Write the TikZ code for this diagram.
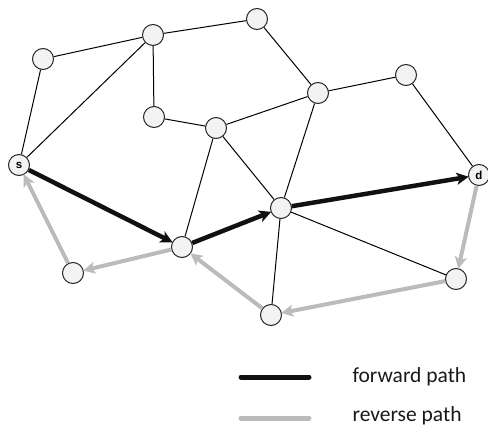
\documentclass[tikz,border=0pt]{standalone}
\usepackage{fontspec}
\setmainfont{Carlito}
\newfontfamily\labfont{Liberation Sans}
\usetikzlibrary{arrows.meta}
\definecolor{nodefill}{HTML}{F3F3F3}
\definecolor{fwd}{HTML}{111111}
\definecolor{rev}{HTML}{BBBBBB}
\tikzset{
  vtx/.style={circle,draw=black!85,line width=1pt,fill=nodefill,minimum size=21pt,inner sep=0pt,font=\labfont\bfseries\fontsize{11.5}{11.5}\selectfont},
  edge/.style={draw=black,line width=1pt},
  fwdpath/.style={draw=fwd,line width=4.5pt,-{Stealth[length=12pt,width=12pt,inset=3pt]},shorten >=-0.5pt},
  revpath/.style={draw=rev,line width=4pt,-{Stealth[length=12pt,width=12pt,inset=3pt]},shorten >=-0.5pt},
  legline/.style={line width=5pt,line cap=round},
  legtext/.style={anchor=west,font=\fontsize{21.5}{21.5}\selectfont,text=black!90}
}
\begin{document}
\begin{tikzpicture}[x=1pt,y=-1pt]
\useasboundingbox (0,0) rectangle (488,428);
\node[vtx] (A) at (43,59) {};
\node[vtx] (B) at (153,35) {};
\node[vtx] (C) at (257,19) {};
\node[vtx] (D) at (154,117) {};
\node[vtx] (E) at (216,128) {};
\node[vtx] (F) at (318,93) {};
\node[vtx] (G) at (406,75) {};
\node[vtx] (s) at (19,165) {s};
\node[vtx] (d) at (479,175) {d};
\node[vtx] (H) at (182,247) {};
\node[vtx] (I) at (281,208) {};
\node[vtx] (J) at (73,273) {};
\node[vtx] (K) at (456,279) {};
\node[vtx] (L) at (271,315) {};
\draw[edge] (A) -- (B);
\draw[edge] (A) -- (s);
\draw[edge] (B) -- (C);
\draw[edge] (B) -- (D);
\draw[edge] (B) -- (s);
\draw[edge] (C) -- (F);
\draw[edge] (D) -- (E);
\draw[edge] (E) -- (F);
\draw[edge] (E) -- (H);
\draw[edge] (E) -- (I);
\draw[edge] (F) -- (I);
\draw[edge] (F) -- (G);
\draw[edge] (G) -- (d);
\draw[edge] (I) -- (K);
\draw[edge] (I) -- (L);
\draw[fwdpath] (s) -- (H);
\draw[fwdpath] (H) -- (I);
\draw[fwdpath] (I) -- (d);
\draw[revpath] (d) -- (K);
\draw[revpath] (K) -- (L);
\draw[revpath] (L) -- (H);
\draw[revpath] (H) -- (J);
\draw[revpath] (J) -- (s);
\coordinate (f1) at (241,377);
\coordinate (f2) at (309,377);
\coordinate (r1) at (241,418);
\coordinate (r2) at (309,418);
\draw[legline,draw=fwd] (f1) -- (f2);
\draw[legline,draw=rev] (r1) -- (r2);
\node[legtext] (ft) at (349,377) {forward path};
\node[legtext] (rt) at (349,416) {reverse path};
\end{tikzpicture}
\end{document}
